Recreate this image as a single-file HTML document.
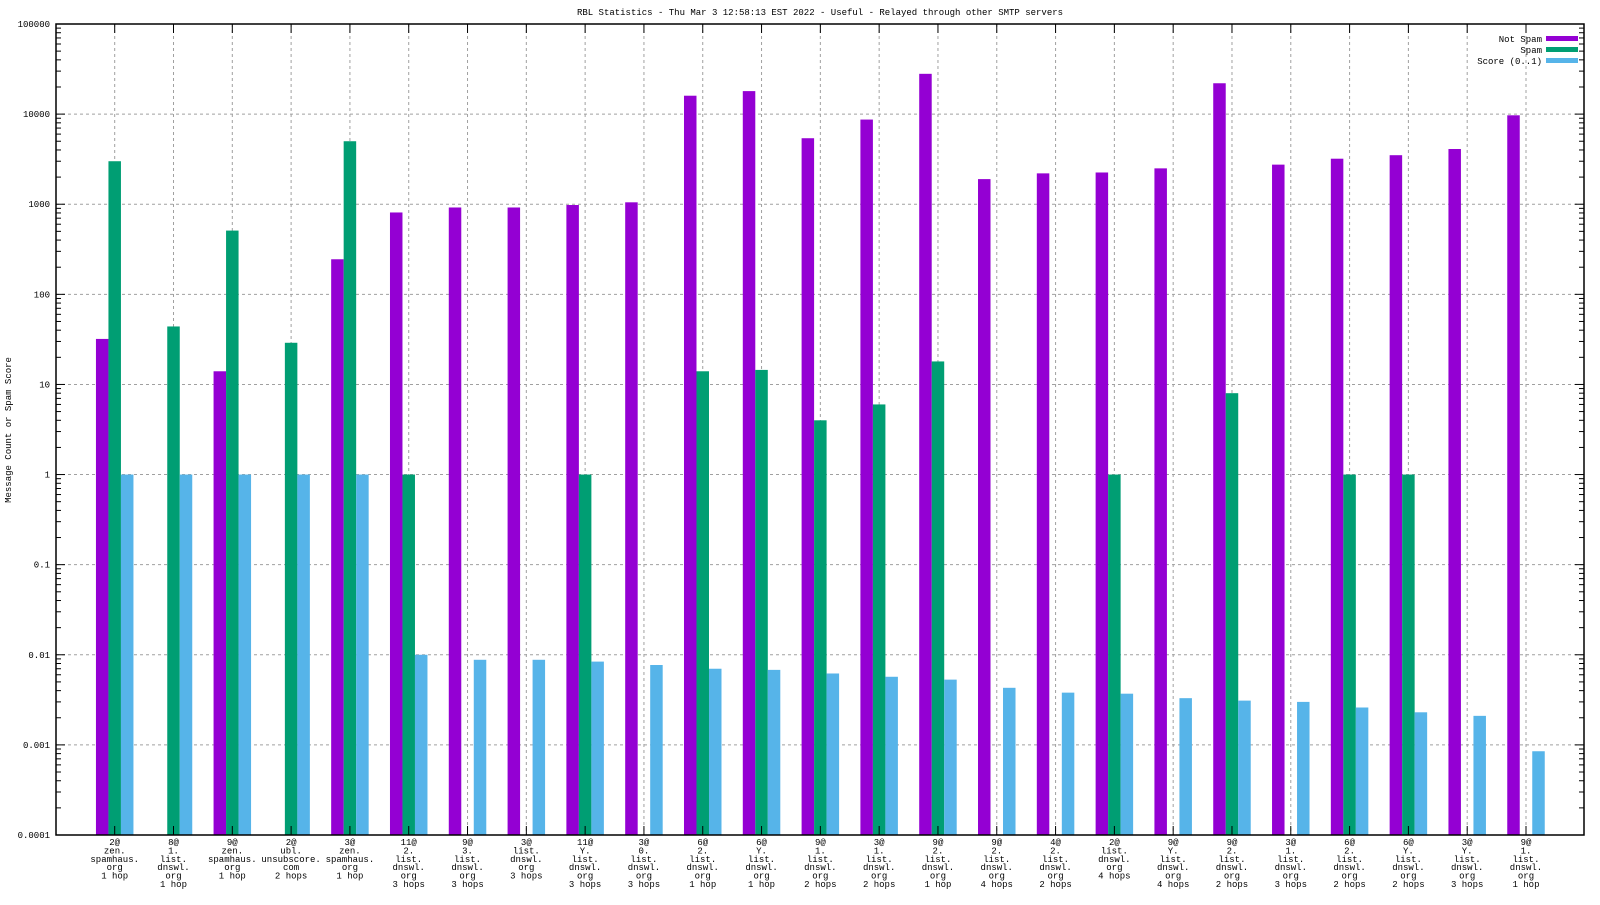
<!DOCTYPE html>
<html><head><meta charset="utf-8"><style>
html,body{margin:0;padding:0;background:#fff;}
svg text{font-family:"Liberation Mono","DejaVu Sans Mono",monospace;font-size:9px;fill:#000;}
</style></head><body>
<svg id="chart" width="1600" height="900" viewBox="0 0 1600 900" xmlns="http://www.w3.org/2000/svg">
<rect x="0" y="0" width="1600" height="900" fill="#fff"/>
<text x="820" y="15" text-anchor="middle">RBL Statistics - Thu Mar  3 12:58:13 EST 2022 - Useful - Relayed through other SMTP servers</text>
<text transform="translate(11,430) rotate(-90)" text-anchor="middle">Message Count or Spam Score</text>
<g id="grid"></g><g id="bars"></g><g id="axes"></g>
<g>
<text x="1542" y="42" text-anchor="end">Not Spam</text>
<rect x="1546" y="36" width="32" height="5" fill="#9400d3"/>
<text x="1542" y="53" text-anchor="end">Spam</text>
<rect x="1546" y="47" width="32" height="5" fill="#009e73"/>
<text x="1542" y="64" text-anchor="end">Score (0..1)</text>
<rect x="1546" y="58" width="32" height="5" fill="#56b4e9"/>
</g>
</svg>
<script>
const categories = [
 ["2@","zen.","spamhaus.","org","1 hop"],
 ["8@","1.","list.","dnswl.","org","1 hop"],
 ["9@","zen.","spamhaus.","org","1 hop"],
 ["2@","ubl.","unsubscore.","com","2 hops"],
 ["3@","zen.","spamhaus.","org","1 hop"],
 ["11@","2.","list.","dnswl.","org","3 hops"],
 ["9@","3.","list.","dnswl.","org","3 hops"],
 ["3@","list.","dnswl.","org","3 hops"],
 ["11@","Y.","list.","dnswl.","org","3 hops"],
 ["3@","0.","list.","dnswl.","org","3 hops"],
 ["6@","2.","list.","dnswl.","org","1 hop"],
 ["6@","Y.","list.","dnswl.","org","1 hop"],
 ["9@","1.","list.","dnswl.","org","2 hops"],
 ["3@","1.","list.","dnswl.","org","2 hops"],
 ["9@","2.","list.","dnswl.","org","1 hop"],
 ["9@","2.","list.","dnswl.","org","4 hops"],
 ["4@","2.","list.","dnswl.","org","2 hops"],
 ["2@","list.","dnswl.","org","4 hops"],
 ["9@","Y.","list.","dnswl.","org","4 hops"],
 ["9@","2.","list.","dnswl.","org","2 hops"],
 ["3@","1.","list.","dnswl.","org","3 hops"],
 ["6@","2.","list.","dnswl.","org","2 hops"],
 ["6@","Y.","list.","dnswl.","org","2 hops"],
 ["3@","Y.","list.","dnswl.","org","3 hops"],
 ["9@","1.","list.","dnswl.","org","1 hop"]
];
const notSpam = [32,0,14,0,245,810,920,920,980,1050,16000,18000,5400,8700,28000,1900,2200,2250,2500,22000,2750,3200,3500,4100,9700];
const spam = [3000,44,510,29,5000,1,0,0,1,0,14,14.5,4,6,18,0,0,1,0,8,0,1,1,0,0];
const score = [1,1,1,1,1,0.01,0.0088,0.0088,0.0084,0.0077,0.007,0.0068,0.0062,0.0057,0.0053,0.0043,0.0038,0.0037,0.0033,0.0031,0.003,0.0026,0.0023,0.0021,0.00085];
const yTickLabels = ["0.0001","0.001","0.01","0.1","1","10","100","1000","10000","100000"];

const NS="http://www.w3.org/2000/svg";
const L=56,R=1584,T=24,B=835;
const yMinExp=-4,yMaxExp=5;
function y(v){return B-(Math.log10(v)-yMinExp)/(yMaxExp-yMinExp)*(B-T);}
const x0=114.7, step=(1526-114.7)/(categories.length-1);
function x(i){return x0+i*step;}
function mk(tag,attrs,parent){const e=document.createElementNS(NS,tag);for(const k in attrs)e.setAttribute(k,attrs[k]);parent.appendChild(e);return e;}
const grid=document.getElementById('grid'),bars=document.getElementById('bars'),axes=document.getElementById('axes');
yTickLabels.forEach((lab,k)=>{
  const v=parseFloat(lab), yy=y(v);
  if(k>0&&k<yTickLabels.length-1){
    const g=mk('line',{x1:L,x2:R,y1:yy,y2:yy,stroke:'#a0a0a0','stroke-dasharray':'3,3','stroke-width':1},grid);
    
    
  }
  const t=mk('text',{x:L-6,y:yy+3,'text-anchor':'end'},axes);t.textContent=lab;
  
  
  mk('line',{x1:L,x2:L+9,y1:yy,y2:yy,stroke:'#000'},axes);
  mk('line',{x1:R,x2:R-9,y1:yy,y2:yy,stroke:'#000'},axes);
  if(k<yTickLabels.length-1){for(let m=2;m<10;m++){const ym=y(v*m);
    mk('line',{x1:L,x2:L+5,y1:ym,y2:ym,stroke:'#000'},axes);
    mk('line',{x1:R,x2:R-5,y1:ym,y2:ym,stroke:'#000'},axes);}}
});
const bw=12.5;
categories.forEach((lines,i)=>{
  const cx=x(i);
  const g=mk('line',{x1:cx,x2:cx,y1:T,y2:B,stroke:'#a0a0a0','stroke-dasharray':'3,3','stroke-width':1},grid);
  
  
  mk('line',{x1:cx,x2:cx,y1:B,y2:B-9,stroke:'#000'},axes);
  mk('line',{x1:cx,x2:cx,y1:T,y2:T+9,stroke:'#000'},axes);
  const series=[[notSpam[i],'#9400d3','bar-not-spam',-1.5],[spam[i],'#009e73','bar-spam',-0.5],[score[i],'#56b4e9','bar-score',0.5]];
  series.forEach(([v,c,n,off])=>{
    if(!(v>0))return;
    const top=y(v);
    const r=mk('rect',{x:cx+off*bw,y:top,width:bw,height:B-top,fill:c},bars);
    
    
  });
  const t=mk('text',{'text-anchor':'middle'},axes);
  
  
  lines.forEach((s,j)=>{const sp=mk('tspan',{x:cx,y:845+j*8.4},t);sp.textContent=s;});
});
const frame=mk('rect',{x:L,y:T,width:R-L,height:B-T,fill:'none',stroke:'#000','stroke-width':1.5},axes);


</script>
</body></html>
